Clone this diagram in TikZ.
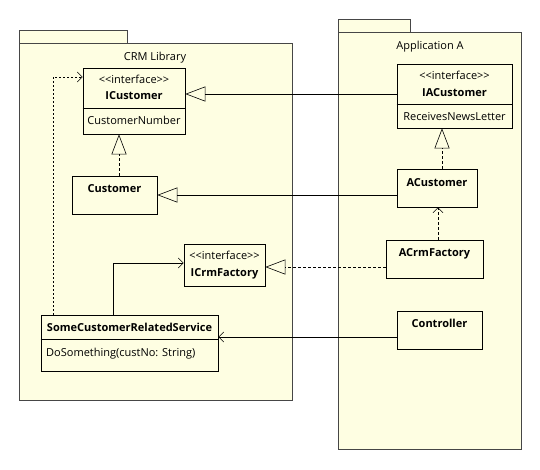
\documentclass[tikz,border=0pt]{standalone}
\usepackage{fontspec}
\setmainfont{Open Sans}
\usetikzlibrary{arrows.meta}
\definecolor{umlfill}{RGB}{254,254,226}
\definecolor{umlline}{RGB}{70,70,70}

\begin{document}
\begin{tikzpicture}[x=1pt,y=-1pt, font=\fontsize{11}{13}\selectfont,
    pkg/.style={draw=umlline, fill=umlfill, line width=0.9pt},
    cls/.style={draw=black, fill=umlfill, line width=0.7pt, inner sep=0pt},
    lbl/.style={inner sep=0pt, anchor=base},
    bold/.style={lbl, font=\fontsize{11}{13}\selectfont\bfseries},
    gen/.style={line width=0.6pt, -{Triangle[open, length=20pt, width=15pt]}},
    real/.style={gen, dash pattern=on 3pt off 2pt},
    dep/.style={line width=0.6pt, dash pattern=on 3pt off 2pt, -{Straight Barb[length=5pt, width=10pt]}},
    use/.style={line width=0.6pt, -{Straight Barb[length=5pt, width=10pt]}}]
  \useasboundingbox (0,0) rectangle (540,469);

  % Packages
  \draw[pkg] (19,30) rectangle (127,43);
  \draw[pkg] (19,43) rectangle (292,400);
  \node[lbl] (crmlib) at (155,60) {CRM Library};
  \draw[pkg] (338,19) rectangle (410,32);
  \draw[pkg] (338,32) rectangle (521,449);
  \node[lbl] (appa) at (430,49) {Application A};

  % Classes in CRM Library
  \node[cls, minimum width=102pt, minimum height=66pt] (icust) at (134,101) {};
  \draw[line width=0.7pt] (icust.west |- 0,108) -- (icust.east |- 0,108);
  \node[lbl] (icust-st) at (134,83) {<{}<interface>{}>};
  \node[bold] (icust-name) at (134,99) {ICustomer};
  \node[lbl] (icust-attr) at (134,124) {CustomerNumber};

  \node[cls, minimum width=85pt, minimum height=38pt] (cust) at (114.5,195) {};
  \node[bold] (cust-name) at (114.5,192) {Customer};

  \node[cls, minimum width=81pt, minimum height=42pt] (icrm) at (224.5,265) {};
  \node[lbl] (icrm-st) at (224.5,259) {<{}<interface>{}>};
  \node[bold] (icrm-name) at (224.5,276) {ICrmFactory};

  \node[cls, minimum width=177pt, minimum height=56pt] (scrs) at (129.5,343) {};
  \draw[line width=0.7pt] (scrs.west |- 0,339) -- (scrs.east |- 0,339);
  \node[bold] (scrs-name) at (129.5,331) {SomeCustomerRelatedService};
  \node[lbl, anchor=base west] (scrs-op) at (46,356) {DoSomething(custNo: String)};

  % Classes in Application A
  \node[cls, minimum width=115pt, minimum height=64pt] (iacust) at (454.5,96) {};
  \draw[line width=0.7pt] (iacust.west |- 0,104) -- (iacust.east |- 0,104);
  \node[lbl] (iacust-st) at (454.5,79) {<{}<interface>{}>};
  \node[bold] (iacust-name) at (454.5,96) {IACustomer};
  \node[lbl] (iacust-attr) at (454.5,120) {ReceivesNewsLetter};

  \node[cls, minimum width=80pt, minimum height=38pt] (acust) at (437,188) {};
  \node[bold] (acust-name) at (437,186) {ACustomer};

  \node[cls, minimum width=97pt, minimum height=38pt] (acrm) at (434.5,259) {};
  \node[bold] (acrm-name) at (434.5,256) {ACrmFactory};

  \node[cls, minimum width=85pt, minimum height=38pt] (ctrl) at (439.5,330) {};
  \node[bold] (ctrl-name) at (439.5,327) {Controller};

  % Generalizations and realizations
  \draw[gen] ([yshift=2pt]iacust.west) -- ([yshift=2pt]iacust.west -| icust.east);
  \draw[gen] (acust.west |- cust.east) -- (cust.east);
  \draw[real] ([xshift=4.5pt]cust.north) -- ([xshift=4.5pt]cust.north |- icust.south);
  \draw[real] ([xshift=5pt]acust.north) -- ([xshift=5pt]acust.north |- iacust.south);
  \draw[real] ([yshift=-2pt]acrm.west |- icrm.east) -- ([yshift=-2pt]icrm.east);

  % Dependencies
  \draw[dep] ([xshift=3.5pt]acrm.north) -- ([xshift=3.5pt]acrm.north |- acust.south);
  \draw[dep, dash pattern=on 2pt off 2pt] ([xshift=-76.5pt]scrs.north) |- ([yshift=24pt]icust.west);
  \draw[use] ([xshift=-16.5pt]scrs.north) |- ([yshift=2pt]icrm.west);
  \draw[use] ([yshift=-7pt]ctrl.west) -- ([yshift=-7pt]ctrl.west -| scrs.east);
\end{tikzpicture}
\end{document}
